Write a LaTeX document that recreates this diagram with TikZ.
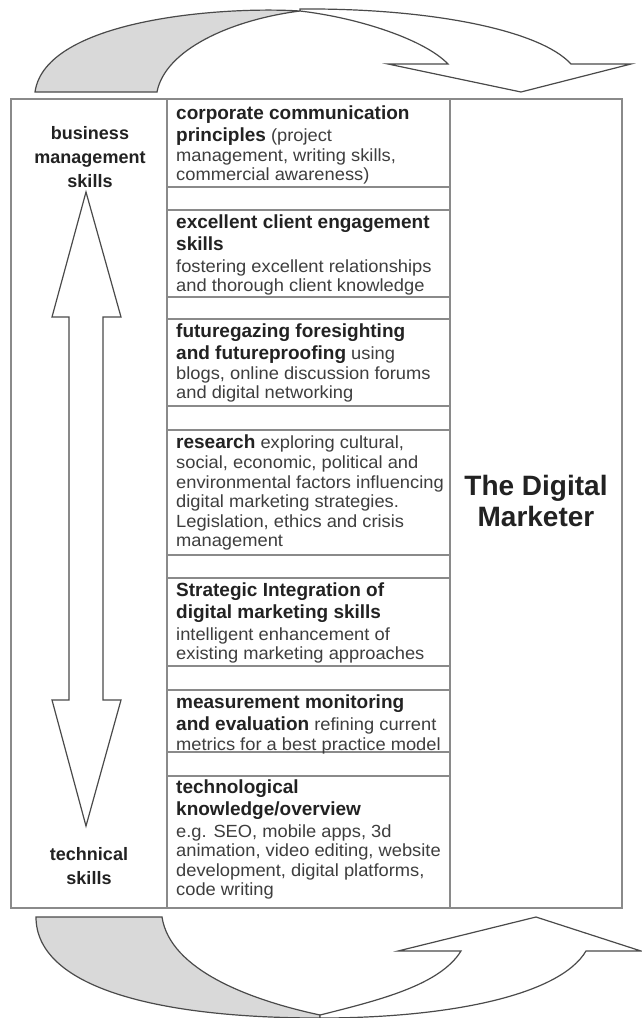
\documentclass[tikz,border=0pt]{standalone}
\usepackage{fontspec}
\setmainfont{Liberation Sans}
\newfontfamily\bodyfont[FakeStretch=1.04]{Liberation Sans}
\definecolor{boxgray}{HTML}{8A8A8A}
\definecolor{arrowgray}{HTML}{4A4A4A}
\definecolor{fillgray}{HTML}{D9D9D9}
\definecolor{bodygray}{HTML}{3E3E3E}
\definecolor{headgray}{HTML}{222222}
\newcommand\hd[1]{{\fontsize{19}{22}\selectfont\rmfamily\bfseries\color{headgray}#1}}
\begin{document}
\begin{tikzpicture}[x=1pt,y=-1pt,
  boxline/.style={draw=boxgray, line width=1.1pt},
  blockarrow/.style={draw=arrowgray, line width=1.2pt, line join=miter},
  rowtext/.style={anchor=north west, inner sep=0pt, align=left, text=bodygray,
    font=\bodyfont\fontsize{17.6}{19.6}\selectfont},
  sidelabel/.style={inner sep=0pt, align=center, text=headgray,
    font=\fontsize{18}{24}\selectfont\bfseries},
  titletext/.style={inner sep=0pt, align=center, text=headgray,
    font=\fontsize{28}{31}\selectfont\bfseries}]
\useasboundingbox (0,0) rectangle (641,1018);
\fill[white] (0,0) rectangle (641,1018);

% ---- top curved arrow ----
\filldraw[blockarrow, fill=fillgray]
  (35,92) -- (157,92) .. controls (165,50) and (230,20) .. (300,11)
  .. controls (220,6) and (45,20) .. (35,92) -- cycle;
\filldraw[blockarrow, fill=white]
  (300,9) .. controls (430,8) and (540,30) .. (571,64) -- (631,64) -- (521,92)
  -- (388,64) -- (448,64) .. controls (425,40) and (360,18) .. (300,11) -- cycle;

% ---- bottom curved arrow ----
\filldraw[blockarrow, fill=fillgray]
  (36,917) -- (162,917) .. controls (170,970) and (250,1000) .. (320,1015)
  -- (320,1018) .. controls (150,1018) and (36,985) .. (36,917) -- cycle;
\filldraw[blockarrow, fill=white]
  (320,1015) .. controls (380,1000) and (440,985) .. (461,951) -- (398,951)
  -- (536,917) -- (641,951) -- (586,951) .. controls (560,995) and (450,1018) .. (320,1018) -- cycle;

% ---- table ----
\draw[boxline] (11,99) rectangle (622,908);
\draw[boxline] (167,99) -- (167,908);
\draw[boxline] (450,99) -- (450,908);
\foreach \yy in {187,210,297,319,406,430,555,578,666,690,752,776}
  \draw[boxline] (167,\yy) -- (450,\yy);

% ---- double block arrow ----
\draw[blockarrow, fill=white]
  (86,192) -- (121,317) -- (103,317) -- (103,700) -- (121,700) -- (86,826)
  -- (52,700) -- (69,700) -- (69,317) -- (52,317) -- cycle;

% ---- labels ----
\node[sidelabel] (bms) at (90,157) {business\\management\\skills};
\node[sidelabel] (tech) at (89,866) {technical\\skills};
\node[titletext] (title) at (536,501) {The Digital\\Marketer};

\node[rowtext] (r1) at (176,106) {\hd{corporate communication}\\[2pt]
  \hd{principles} (project\\
  management, writing skills,\\
  commercial awareness)};
\node[rowtext] (r2) at (176,215) {\hd{excellent client engagement}\\[2pt]
  \hd{skills}\\[2pt]
  fostering excellent relationships\\
  and thorough client knowledge};
\node[rowtext] (r3) at (176,324) {\hd{futuregazing foresighting}\\[2pt]
  \hd{and futureproofing} using\\
  blogs, online discussion forums\\
  and digital networking};
\node[rowtext] (r4) at (176,435) {\hd{research} exploring cultural,\\
  social, economic, political and\\
  environmental factors influencing\\
  digital marketing strategies.\\
  Legislation, ethics and crisis\\
  management};
\node[rowtext] (r5) at (176,583) {\hd{Strategic Integration of}\\[2pt]
  \hd{digital marketing skills}\\[2pt]
  intelligent enhancement of\\
  existing marketing approaches};
\node[rowtext] (r6) at (176,695) {\hd{measurement monitoring}\\[2pt]
  \hd{and evaluation} refining current\\
  metrics for a best practice model};
\node[rowtext] (r7) at (176,780) {\hd{technological}\\[2pt]
  \hd{knowledge/overview}\\[2pt]
  e.g. SEO, mobile apps, 3d\\
  animation, video editing, website\\
  development, digital platforms,\\
  code writing};
\end{tikzpicture}
\end{document}
